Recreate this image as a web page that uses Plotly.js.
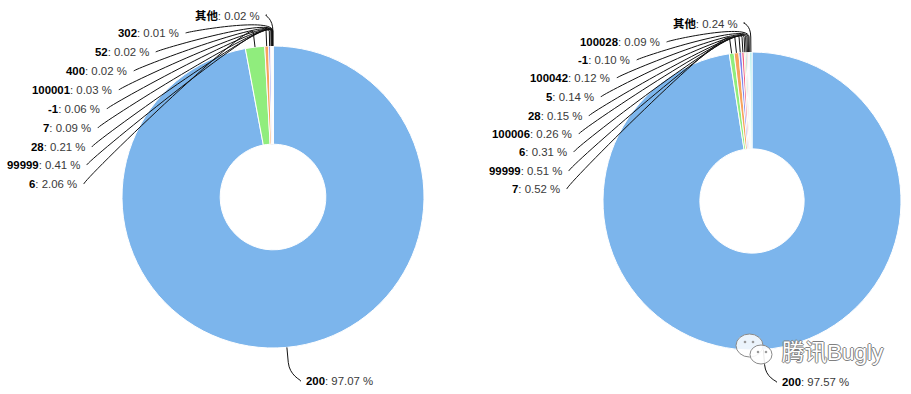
<!DOCTYPE html>
<html>
<head>
<meta charset="utf-8">
<script src="https://cdn.plot.ly/plotly-3.0.1.min.js"></script>
<style>html,body{margin:0;padding:0;background:#fff;}#chart{width:911px;height:394px;}</style>
</head>
<body>
<div id="chart"></div>
<script>
// ---- data ----
const leftLabels  = ['200','6','99999','28','7','-1','100001','400','52','302','其他'];
const leftValues  = [97.07, 2.06, 0.41, 0.21, 0.09, 0.06, 0.03, 0.02, 0.02, 0.01, 0.02];
const rightLabels = ['200','7','99999','6','100006','28','5','100042','-1','100028','其他'];
const rightValues = [97.57, 0.52, 0.51, 0.31, 0.26, 0.15, 0.14, 0.12, 0.10, 0.09, 0.24];

// ---- layout / style ----
const W = 911, H = 394;
const colors = ['#7cb5ec','#90ed7d','#f7a35c','#8085e9','#f15c80','#e4d354','#2b908f','#f45b5b','#91e8e1','#7798BF','#aaeeee'];
const pies = [
  {cx: 273, cy: 197, R: 151, labels: leftLabels, values: leftValues,
   // label anchor: [x, y, side]  side 'r' = text ends at x, 'l' = text starts at x
   anchors: [[304,381,'l'],[79,184,'r'],[82,165,'r'],[87,147,'r'],[93,128,'r'],[102,109,'r'],[114,90,'r'],[129,71,'r'],[151,52,'r'],[181,33,'r'],[262,15,'r']]},
  {cx: 752, cy: 201, R: 149, labels: rightLabels, values: rightValues,
   anchors: [[780,382,'l'],[562,189,'r'],[564,171,'r'],[569,152,'r'],[574,134,'r'],[584,116,'r'],[596,97,'r'],[612,78,'r'],[632,60,'r'],[662,42,'r'],[740,23,'r']]}
];
const FONT = 'Liberation Sans, Arial, Noto Sans CJK SC, sans-serif';
const px = x => x / W;
const py = y => 1 - y / H;

const traces = [];
const shapes = [];
const annotations = [];

pies.forEach(p => {
  traces.push({
    type: 'pie', labels: p.labels, values: p.values, sort: false,
    direction: 'clockwise', rotation: 0, hole: 0.35,
    textinfo: 'none', hoverinfo: 'label+percent', showlegend: false,
    marker: {colors: colors, line: {color: '#ffffff', width: 1}},
    domain: {x: [px(p.cx - p.R), px(p.cx + p.R)], y: [py(p.cy + p.R), py(p.cy - p.R)]}
  });
  const total = p.values.reduce((a, b) => a + b, 0);
  let cum = 0;
  p.values.forEach((v, i) => {
    const th = 2 * Math.PI * (cum + v / 2) / total;
    cum += v;
    const ex = p.cx + p.R * Math.sin(th), ey = p.cy - p.R * Math.cos(th);
    const bx = p.cx + (p.R + 15) * Math.sin(th), by = p.cy - (p.R + 15) * Math.cos(th);
    const a = p.anchors[i];
    let sx, c1x;
    if (a[2] === 'r') { sx = a[0] + 5; c1x = a[0]; }
    else { sx = a[0] - 4; c1x = a[0]; }
    const sy = a[1];
    const c2x = 2 * bx - ex, c2y = 2 * by - ey;
    const path = 'M ' + px(sx) + ' ' + py(sy) +
      ' C ' + px(c1x) + ' ' + py(sy) + ' ' + px(c2x) + ' ' + py(c2y) + ' ' + px(bx) + ' ' + py(by) +
      ' L ' + px(ex) + ' ' + py(ey);
    shapes.push({type: 'path', xref: 'paper', yref: 'paper', path: path, line: {color: '#111111', width: 1}});
    annotations.push({
      xref: 'paper', yref: 'paper', x: px(a[0]), y: py(a[1]),
      xanchor: a[2] === 'r' ? 'right' : 'left', yanchor: 'middle', showarrow: false,
      text: '<span style="color:#000"><b>' + p.labels[i] + '</b></span>: ' + v.toFixed(2) + ' %',
      font: {family: FONT, size: 11.4, color: '#3a3a3a'}
    });
  });
});

// ---- watermark ----
shapes.push({type:'circle', xref:'paper', yref:'paper', x0:px(736), x1:px(763), y0:py(357), y1:py(334),
  fillcolor:'rgba(255,255,255,0.85)', line:{color:'#8a8a8a', width:1}});
shapes.push({type:'circle', xref:'paper', yref:'paper', x0:px(750), x1:px(772), y0:py(364), y1:py(345),
  fillcolor:'rgba(255,255,255,0.9)', line:{color:'#8a8a8a', width:1}});
[[745,342],[753,342],[758,352],[766,352]].forEach(e => {
  shapes.push({type:'circle', xref:'paper', yref:'paper', x0:px(e[0]-1.3), x1:px(e[0]+1.3), y0:py(e[1]+1.3), y1:py(e[1]-1.3),
    fillcolor:'#9a9a9a', line:{width:0}});
});
annotations.push({xref:'paper', yref:'paper', x:px(780), y:py(352), xanchor:'left', yanchor:'middle', showarrow:false,
  text:'腾讯Bugly', font:{family:'Liberation Sans, Noto Sans CJK SC, sans-serif', size:22.5, color:'#ffffff',
  shadow:'1px 0 0 #808080, -1px 0 0 #808080, 0 1px 0 #808080, 0 -1px 0 #808080'}});

Plotly.newPlot('chart', traces, {
  width: W, height: H, margin: {l: 0, r: 0, t: 0, b: 0},
  paper_bgcolor: '#ffffff', plot_bgcolor: '#ffffff',
  shapes: shapes, annotations: annotations, showlegend: false
}, {displayModeBar: false, staticPlot: true});
</script>
</body>
</html>
